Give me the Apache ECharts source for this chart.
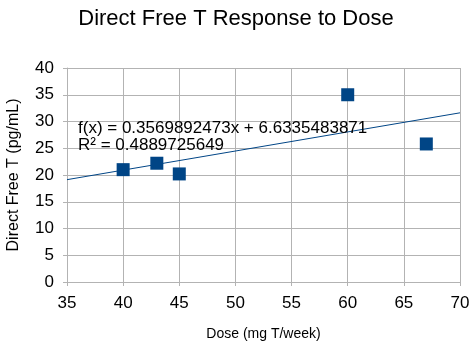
<!DOCTYPE html>
<html><head><meta charset="utf-8">
<script src="https://cdn.jsdelivr.net/npm/echarts@6/dist/echarts.min.js"></script>
<style>html,body{margin:0;padding:0;background:#fff}#c{width:472px;height:356px}</style>
</head><body><div id="c"></div>
<script>
const doses = [40, 43, 45, 60, 67];
const freeT = [21, 22.2, 20.2, 35, 25.8];
const trendSlope = 0.3569892473;
const trendIntercept = 6.6335483871;
const trendX = [35, 70];
const eqText = 'f(x) = 0.3569892473x + 6.6335483871';
const r2Text = 'R² = 0.4889725649';
const xTicks = {min: 35, max: 70, interval: 5};
const yTicks = {min: 0, max: 40, interval: 5};

const font = '"Liberation Sans", Arial, sans-serif';
const chart = echarts.init(document.getElementById('c'), null, {renderer: 'canvas'});
const gridColor = '#b3b3b3';
chart.setOption({
  animation: false,
  title: {text: 'Direct Free T Response to Dose', left: 'center', top: 3,
    textStyle: {fontFamily: font, fontSize: 22, fontWeight: 'normal', color: '#000'}},
  grid: {left: 67, right: 12, top: 68, bottom: 74, containLabel: false, outerBoundsMode: 'none'},
  xAxis: {type: 'value', min: xTicks.min, max: xTicks.max, interval: xTicks.interval,
    name: 'Dose (mg T/week)', nameLocation: 'middle', nameGap: 45,
    nameTextStyle: {fontFamily: font, fontSize: 14, color: '#000'},
    axisLine: {show: true, lineStyle: {color: gridColor}},
    axisTick: {show: true, length: 4, lineStyle: {color: gridColor}},
    axisLabel: {fontFamily: font, fontSize: 17, color: '#000', margin: 13},
    splitLine: {show: true, lineStyle: {color: gridColor, width: 1}}},
  yAxis: {type: 'value', min: yTicks.min, max: yTicks.max, interval: yTicks.interval,
    name: 'Direct Free T (pg/mL)', nameLocation: 'middle', nameGap: 45,
    nameTextStyle: {fontFamily: font, fontSize: 16, color: '#000'},
    axisLine: {show: true, lineStyle: {color: gridColor}},
    axisTick: {show: true, length: 4, lineStyle: {color: gridColor}},
    axisLabel: {fontFamily: font, fontSize: 17, color: '#000', margin: 13},
    splitLine: {show: true, lineStyle: {color: gridColor, width: 1}}},
  graphic: [{type: 'text', left: 78, top: 120, z: 10, style: {text: eqText + '\n' + r2Text,
    font: '17px ' + font, fill: '#000', lineHeight: 17}}],
  series: [
    {type: 'line', data: trendX.map(x => [x, trendSlope * x + trendIntercept]),
     showSymbol: false, symbol: 'none', lineStyle: {color: '#004586', width: 1}, z: 2},
    {type: 'scatter', data: doses.map((d, i) => [d, freeT[i]]), symbol: 'rect', symbolSize: 13,
     itemStyle: {color: '#004586', opacity: 1}, z: 3}
  ]
});
</script></body></html>
